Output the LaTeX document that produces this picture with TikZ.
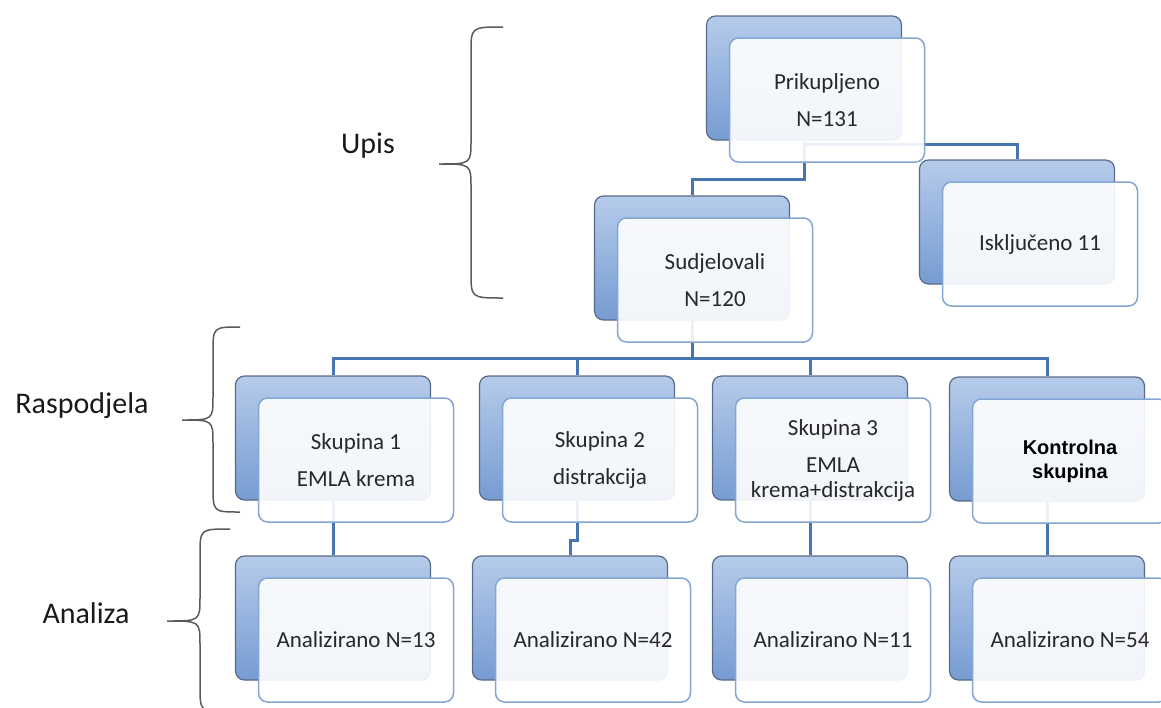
\documentclass[tikz,border=0pt]{standalone}
\usepackage{fontspec}
\setmainfont{Carlito}
\newfontfamily\boldsans{Liberation Sans}

\definecolor{backtop}{RGB}{182,203,234}
\definecolor{backbot}{RGB}{118,156,210}
\definecolor{backline}{RGB}{88,106,135}
\definecolor{frontline}{RGB}{132,166,212}
\definecolor{linkblue}{RGB}{70,118,178}
\definecolor{bracegray}{RGB}{90,90,90}
\definecolor{txt}{RGB}{40,40,40}

\tikzset{
  back/.style={rectangle, rounded corners=9pt, draw=backline, line width=1.2pt,
    top color=backtop, bottom color=backbot, minimum width=195pt, minimum height=124pt},
  front/.style={rectangle, rounded corners=9pt, draw=frontline, line width=1.5pt,
    fill=white, fill opacity=0.9, text opacity=1, text=txt, inner sep=0pt,
    minimum width=195pt, minimum height=124pt, align=center,
    font=\fontsize{23}{25}\selectfont},
  link/.style={draw=linkblue, line width=3pt},
  brace/.style={draw=bracegray, line width=1.5pt},
  lbl/.style={text=black!90, anchor=base, font=\fontsize{30}{36}\selectfont},
}

\begin{document}
\begin{tikzpicture}[x=1pt, y=-1pt]
  \useasboundingbox (0,0) rectangle (1161,707);

  \foreach \n/\x/\y in {prik/804/78, sud/692/258, isk/1017/222,
      s1/333/438, s2/577/438, s3/810/438, kon/1047/439,
      a1/333/618, a2/570/618, a3/810/618, a4/1047/618}
    \node (b-\n) at (\x,\y) [back] {};

  \draw[link] (b-prik.south) -- ++(0,39) -| (b-sud.north);
  \draw[link] ([yshift=-4pt]b-prik.south) -| (b-isk.north);
  \foreach \c in {s1,s2,s3,kon} \draw[link] (b-sud.south) -- ++(0,38) -| (b-\c.north);
  \foreach \p/\c in {s1/a1,s2/a2,s3/a3,kon/a4} \draw[link] (b-\p.south) -- ++(0,40) -| (b-\c.north);

  \node (prik) at ([shift={(23,22)}]b-prik.center) [front] {Prikupljeno\\[12pt]N=131};
  \node (sud) at ([shift={(23,22)}]b-sud.center) [front] {Sudjelovali\\[12pt]N=120};
  \node (isk) at ([shift={(23,22)}]b-isk.center) [front] {Isključeno 11};

  \node (s1) at ([shift={(23,22)}]b-s1.center) [front] {Skupina 1\\[12pt]EMLA krema};
  \node (s2) at ([shift={(23,22)}]b-s2.center) [front] {Skupina 2\\[12pt]distrakcija};
  \node (s3) at ([shift={(23,22)}]b-s3.center) [front] {Skupina 3\\[12pt]EMLA\\krema+distrakcija};
  \node (kon) at ([shift={(23,22)}]b-kon.center) [front, text=black,
    font=\boldsans\bfseries\fontsize{20}{24}\selectfont] {Kontrolna\\skupina};

  \node (a1) at ([shift={(23,22)}]b-a1.center) [front] {Analizirano N=13};
  \node (a2) at ([shift={(23,22)}]b-a2.center) [front] {Analizirano N=42};
  \node (a3) at ([shift={(23,22)}]b-a3.center) [front] {Analizirano N=11};
  \node (a4) at ([shift={(23,22)}]b-a4.center) [front] {Analizirano N=54};

  % braces on the left
  \foreach \e/\m/\t/\a/\c/\b in {503/471/439/27/164/298, 240/213/182/327/420/512, 230/200/167/529/621/712}
    \draw[brace] (\e,\a) .. controls (\m,\a) .. (\m,\a+26) -- (\m,\c-24)
      .. controls (\m,\c) .. (\t,\c) .. controls (\m,\c) .. (\m,\c+24)
      -- (\m,\b-26) .. controls (\m,\b) .. (\e,\b);

  \node (upis) at (368,153) [lbl] {Upis};
  \node (rasp) at (82,413) [lbl] {Raspodjela};
  \node (anal) at (86,623) [lbl] {Analiza};
\end{tikzpicture}
\end{document}
